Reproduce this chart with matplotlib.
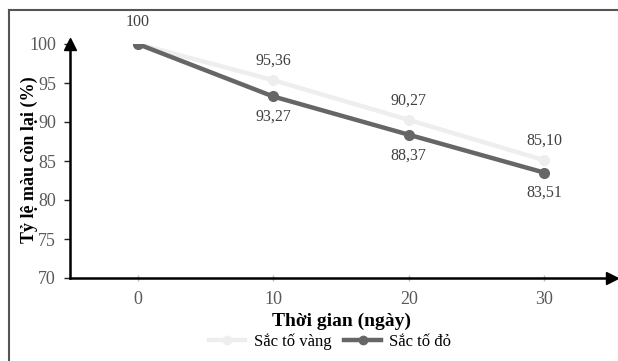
import matplotlib.pyplot as plt
from matplotlib.lines import Line2D

days = ["0", "10", "20", "30"]
vang = [100, 95.36, 90.27, 85.10]
do = [100, 93.27, 88.37, 83.51]
vang_labels = ["100", "95,36", "90,27", "85,10"]
do_labels = ["93,27", "88,37", "83,51"]

plt.rcParams["font.family"] = ["Liberation Serif", "DejaVu Serif"]

W, H = 618, 361
fig = plt.figure(figsize=(W / 100, H / 100), dpi=100)
ax = fig.add_axes([70 / W, 1 - 278 / H, (612 - 70) / W, (278 - 44) / H])

x = list(range(len(days)))
c_vang = "#eeeeee"
c_do = "#666666"
ax.plot(x, vang, color=c_vang, lw=3.2, marker="o", ms=7, zorder=2)
ax.plot(x, do, color=c_do, lw=3.2, marker="o", ms=7, zorder=3)

ax.set_xlim(-0.5, 3.5)
ax.set_ylim(70, 100)
ax.set_xticks(x)
ax.set_xticklabels(days)
ax.set_yticks(range(70, 101, 5))
ax.tick_params(axis="both", colors="#595959", labelsize=13, length=4, width=1)
ax.tick_params(axis="x", direction="inout", length=4, color="#bbbbbb", pad=7)
ax.tick_params(axis="y", direction="out", color="#222222", pad=6)

for s in ["top", "right"]:
    ax.spines[s].set_visible(False)
ax.spines["left"].set_linewidth(1.8)
ax.spines["bottom"].set_linewidth(1.8)
ax.spines["left"].set_color("black")
ax.spines["bottom"].set_color("black")
# arrow heads
ax.plot(1, 0, ">k", ms=8, transform=ax.transAxes, clip_on=False)
ax.plot(0, 1, "^k", ms=8, transform=ax.transAxes, clip_on=False)

# data labels
txt = "#404040"
ax.annotate(vang_labels[0], (0, vang[0]), xytext=(0, 10), textcoords="offset points",
            ha="center", va="bottom", fontsize=11.5, color=txt)
for i in range(1, 4):
    ax.annotate(vang_labels[i], (i, vang[i]), xytext=(0, 8), textcoords="offset points",
                ha="center", va="bottom", fontsize=11.5, color=txt)
    ax.annotate(do_labels[i - 1], (i, do[i]), xytext=(0, -9), textcoords="offset points",
                ha="center", va="top", fontsize=11.5, color=txt)

ax.set_ylabel("Tỷ lệ màu còn lại (%)", fontsize=13, fontweight="bold")
ax.yaxis.set_label_coords((38 - 70) / 542, (278 - 160) / 234)
fig.text(341 / W, 1 - 321 / H, "Thời gian (ngày)", fontsize=14, fontweight="bold",
         ha="center", va="center")

handles = [
    Line2D([], [], color=c_vang, lw=3.2, marker="o", ms=6),
    Line2D([], [], color=c_do, lw=3.2, marker="o", ms=6),
]
fig.legend(handles, ["Sắc tố vàng", "Sắc tố đỏ"], loc="center",
           bbox_to_anchor=(330 / W, 1 - 342 / H), ncol=2, frameon=False,
           fontsize=12, handlelength=2.2, columnspacing=0.8, handletextpad=0.5)

# outer frame (left and top only)
fig.add_artist(Line2D([9 / W, 9 / W], [0, 1 - 10 / H], color="#555555", lw=1.5,
                      transform=fig.transFigure))
fig.add_artist(Line2D([9 / W, 1], [1 - 10 / H, 1 - 10 / H], color="#555555", lw=1.5,
                      transform=fig.transFigure))

fig.savefig("out.png", dpi=100)
